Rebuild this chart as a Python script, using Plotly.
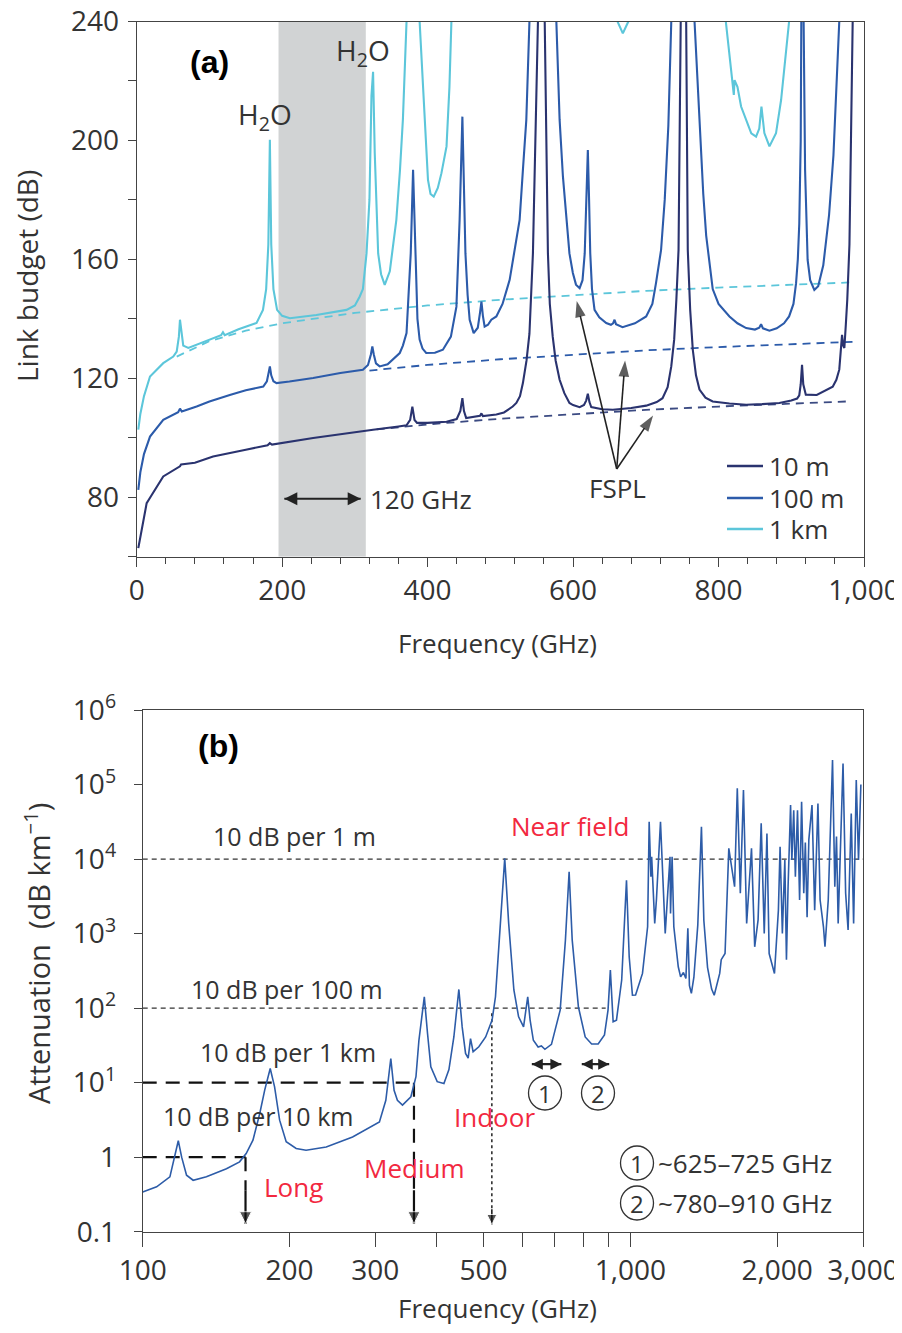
import math
import plotly.graph_objects as go

W, H = 894, 1317   # figure size so that it fits the 902x1333 page with its 8 px body margin
OFF = 8            # page body margin of the browser

# ---------------- panel (a): link budget, (frequency GHz, dB) ----------------
LB_10M = [(2.2, 62.9), (5, 66.5), (10, 72.5), (13.7, 78), (20, 80.5), (36.5, 87), (59.5, 90.4), (61, 91),
          (80, 91.6), (105, 93.7), (150, 96), (180, 97.5), (183, 98.2), (186, 97.7), (242.6, 99.9), (300, 102),
          (325, 102.7), (360, 103.8), (371, 104.2), (376, 106), (379, 110.5), (382, 106), (385.5, 105), (400, 105),
          (426, 105.4), (440, 106.3), (445, 109), (447.8, 113.3), (450, 109), (453, 106.6), (465, 107), (472, 107.4),
          (474, 108.2), (476, 107.3), (494.5, 107.8), (505, 108.5), (517, 110.5), (522, 111.7), (527, 114),
          (531, 118.4), (536, 126), (540, 135), (544.8, 162.1), (549.5, 240), (557, 300), (561, 240), (565.4, 162.1),
          (568, 145), (572, 134), (576, 126), (581.5, 119.5), (588, 115), (595, 111.7), (600, 111), (609, 110.3),
          (615, 111), (618, 112.5), (620.3, 114.8), (622.5, 112), (625, 110.3), (640, 109.6), (654.7, 109.4),
          (680, 110), (700.5, 110.8), (715, 112), (723, 113.3), (730, 117), (735, 124), (739, 133), (742, 146.4),
          (745, 163.2), (748, 240), (752, 300), (755.5, 240), (757.7, 163.2), (761, 143), (764.6, 129.6), (769, 121),
          (773.8, 116.2), (782, 113.5), (792, 112.2), (815, 111.5), (838, 111.1), (860, 111.3), (883.6, 111.7),
          (900, 112.5), (908, 113.2), (911, 114.3), (913, 118), (914.8, 124.5), (916.5, 118), (920, 114.5),
          (935, 114.4), (957, 117.2), (962, 119.5), (966, 122.9), (968, 128), (969.8, 134.6), (971.5, 131),
          (973, 130.2), (975, 138), (977, 146.4), (980, 165), (984, 240), (988, 300), (1000, 280)]

LB_100M = [(2.2, 82.5), (5, 88.4), (10, 94.5), (18.3, 100.4), (36.5, 106), (50, 107.8), (57, 108.6), (59.5, 109.8),
           (62, 108.8), (82.4, 110.5), (100, 112.2), (128, 114.4), (150, 116), (174, 117.2), (179, 119), (181.5, 122),
           (183.1, 124), (185, 121), (188, 119), (192.3, 118.4), (210, 118.9), (242.6, 120.1), (280, 121.8),
           (311, 122.9), (318, 124.5), (322, 128), (324, 130.7), (326, 128), (329, 125), (334, 124), (345, 124.7),
           (361.7, 128.5), (366, 131), (371, 135.2), (373, 144), (376.8, 162.1), (380, 190.1), (383.7, 156.5),
           (386, 140), (389, 133), (393, 130), (398, 128.5), (410, 128.6), (421, 129.6), (432, 134), (439.6, 144.1),
           (444, 173.3), (447.8, 208), (452, 162), (455, 148), (457.8, 139.7), (463.3, 135.2), (469, 137), (472, 142),
           (474, 145.8), (476, 141), (478.4, 137.4), (483, 138), (487.6, 139.7), (494.5, 140.8), (503, 145),
           (512.8, 153.1), (520, 163), (526.5, 173.3), (531, 190), (535.7, 206.9), (540, 240), (557, 400),
           (577, 240), (581.5, 206.9), (586, 188), (590.6, 173.3), (595, 162), (599.7, 155.4), (604, 151.5),
           (609, 150.3), (613, 153), (616, 162), (618.5, 180), (620.3, 196.8), (622, 180), (623.6, 162.1), (626, 150),
           (629.5, 143), (636, 140.5), (645.6, 138.6), (652, 138), (655, 138.5), (657, 139.7), (659, 138.2),
           (668, 137.2), (685, 138.5), (700.5, 140.8), (709, 145), (714, 152), (718, 158), (721, 163.2), (726, 180),
           (731, 205), (735, 240), (752, 400), (767, 240), (771, 220), (775, 200), (779, 182), (783, 168), (788, 157),
           (792, 150), (800, 145), (815, 140.8), (826, 138.5), (838, 136.9), (850, 136.4), (856, 137), (858.5, 138.2),
           (861, 136.8), (870, 136), (880, 136.8), (890, 138.5), (897, 140.8), (903, 145), (906.6, 152), (909, 160),
           (911, 172), (913, 200), (915, 300), (917, 240), (919, 190), (922.5, 159.8), (926, 153), (931.7, 149.7),
           (937, 151), (944, 158), (952, 175), (958, 195), (962, 215), (966, 240), (988, 400), (1000, 300)]

LB_1KM = [(2.2, 102.7), (5, 108), (10, 114), (18.3, 120.6), (36.5, 125.1), (50.3, 127.3), (55, 129), (58, 134),
          (59.5, 139.7), (61, 136), (64, 131), (71, 130.2), (90, 132), (110, 133.8), (116, 134.5), (118.6, 135.5),
          (121, 134.5), (140, 136.5), (164.8, 138.6), (173.6, 143), (178, 150), (181, 165), (183.1, 200.2),
          (185, 165), (188, 150), (193, 143), (200, 141), (210.6, 140.2), (247, 141.3), (288.5, 143), (300, 144.5),
          (306.7, 147.5), (311, 150), (316, 162), (320, 180), (322.8, 215), (325, 223.1), (327.3, 195.7), (332, 162),
          (336, 155), (341, 151.4), (348, 156), (357, 173.3), (362, 190), (366, 207), (371, 240), (380, 400),
          (389, 240), (392, 225), (396, 207), (400.5, 186.7), (404, 182), (408.4, 181.1), (414, 184), (419, 189),
          (426, 198), (430, 218), (432.7, 240), (448, 300), (557, 400), (620, 300), (655, 245), (661, 240),
          (668.4, 236), (676, 240), (690, 250), (752, 400), (800, 250), (810, 240), (815, 228), (818, 223),
          (821, 215.3), (822, 220.3), (826, 218), (831, 211.4), (838, 207), (845, 202.4), (851.6, 201.3),
          (856, 204), (859, 211.4), (863, 202.5), (870, 198), (879, 202.4), (886, 213.6), (893, 230.4), (897, 240),
          (915, 300), (988, 400), (1000, 300)]

# free-space path loss (dashed), read where visible
FSPL_10M = [(330, 102.8), (400, 104.5), (500, 106.4), (600, 108.0), (700, 109.4), (800, 110.5), (900, 111.5),
            (975, 112.2)]
FSPL_100M = [(320, 122.6), (400, 124.5), (500, 126.4), (600, 128.0), (700, 129.4), (800, 130.5), (900, 131.5),
             (987, 132.3)]
FSPL_1KM = [(55, 127.3), (100, 132.5), (150, 136.0), (200, 138.5), (300, 142.0), (400, 144.5), (500, 146.4),
            (600, 148.0), (700, 149.4), (800, 150.5), (900, 151.5), (987, 152.3)]

BAND_GHZ = (195, 315)
LEGEND_NAMES = ["10 m", "100 m", "1 km"]

# annotation arrows of panel (a): (GHz, dB)
SPAN_ARROW = [(203, 79.5), (308, 79.5)]
FSPL_TAIL = (660, 89.5)
FSPL_HEADS = [(605, 146.0), (671.5, 126.0), (710, 107.5)]

# ---------------- panel (b): attenuation, (frequency GHz, dB/km) ----------------
ATTEN = [(100, 0.342), (106.8, 0.40), (113.7, 0.545), (116.4, 1.0), (118.3, 1.66), (120.2, 1.0), (123, 0.573),
         (126.9, 0.49), (135.1, 0.545), (148.5, 0.70), (158, 0.865), (163, 1.12), (168.3, 1.69), (173.8, 3.86),
         (177.9, 7.93), (182.6, 15.5), (186.4, 8.8), (190.9, 3.14), (196.9, 1.61), (206.4, 1.31), (216.3, 1.24),
         (237.9, 1.37), (269.4, 1.87), (305.8, 2.97), (315.2, 5.8), (322.7, 21.1), (327.7, 7.9), (332.9, 5.8),
         (341, 4.99), (354.8, 6.46), (363.4, 12), (368.5, 37), (378, 142), (383.8, 45.7), (389.8, 16.3),
         (401.7, 10.3), (414.7, 9.75), (424.6, 15), (434.6, 41), (445, 178), (452, 56), (459.3, 24.7), (465, 21.3),
         (470.2, 39), (476, 26), (489, 30.3), (505, 41), (520.6, 69), (529, 142), (541.4, 1371), (552.6, 10200),
         (563, 1371), (577, 175), (590, 76.5), (604, 56), (616, 142), (623, 69), (632.6, 37), (647, 30), (657, 31),
         (668, 28), (689, 32.6), (718, 94), (736, 818), (749, 6760), (760, 818), (782.5, 104), (808, 41), (833, 33),
         (859, 33), (885, 43.6), (900, 94), (910, 323), (922, 65.5), (936.6, 69), (960, 238), (982, 5200),
         (994.6, 488), (1010, 149), (1025, 150), (1040, 200), (1059, 292), (1085, 1233), (1093, 31700),
         (1102, 5800), (1106, 10740), (1122, 1370), (1131, 2818), (1153, 31700), (1179, 1007), (1206, 10740),
         (1209, 1866), (1218, 10740), (1228, 1233), (1254, 359), (1268, 263), (1285, 300), (1300, 250),
         (1312, 1175), (1322, 200), (1334, 158), (1350, 260), (1375, 1300), (1399, 27100), (1415, 1500),
         (1440, 350), (1468, 180), (1486, 149), (1525, 292), (1536, 447), (1564, 540), (1592, 13900), (1636, 4250),
         (1657, 88900), (1681, 3470), (1706, 84300), (1732, 1370), (1745, 3000), (1772, 13900), (1799, 665),
         (1828, 1530), (1855, 30100), (1882, 1000), (1906, 22000), (1926, 540), (1975, 292), (2012, 2065),
         (2028, 14600), (2050, 1000), (2074, 9700), (2090, 447), (2106, 4250), (2131, 53000), (2144, 9700),
         (2163, 45300), (2180, 5800), (2202, 45300), (2224, 2820), (2245, 58500), (2268, 3470), (2285, 16700),
         (2304, 1660), (2323, 18200), (2358, 53000), (2388, 2065), (2425, 55700), (2450, 2820), (2489, 1233),
         (2507, 665), (2546, 2820), (2598, 213000), (2626, 4250), (2647, 20000), (2668, 1370), (2730, 192000),
         (2764, 3470), (2796, 1120), (2838, 40800), (2870, 1370), (2906, 115000), (2937, 9700), (2970, 100000)]

# reference levels (dB/km) and their extent in GHz
LEVEL_1M = (1e4, 100, 3000)
LEVEL_100M = (100, 100, 890)
LEVEL_1KM = (10, 100, 360)
LEVEL_10KM = (1, 100, 162.5)
# vertical cut-offs: (GHz, top of dashed part, start of solid arrow, arrow tip)
CUT_LONG = (162.5, 1, 0.36, 0.128)
CUT_MEDIUM = (360, 10, 0.36, 0.128)
CUT_INDOOR = (520, 85, 0.2, 0.125)
WINDOW_1 = (628, 722)
WINDOW_2 = (795, 905)
WINDOW_LEVEL = 17.7

X_TICKS_B = [100, 200, 300, 500, 1000, 2000, 3000]
X_TEXT_B = ["100", "200", "300", "500", "1,000", "2,000", "3,000"]
X_MINOR_B = [400, 600, 700, 800, 900]
Y_TICKS_B = [0.1, 1, 10, 100, 1e3, 1e4, 1e5, 1e6]
Y_TEXT_B = ["0.1", "1", "10<sup>1</sup>", "10<sup>2</sup>", "10<sup>3</sup>", "10<sup>4</sup>", "10<sup>5</sup>",
            "10<sup>6</sup>"]

C10 = "#2a336f"
C100 = "#2c5baa"
C1K = "#5cc6da"
CATT = "#2d5ca8"
RED = "#f2283f"
TXT = "#333333"
FONT = "Open Sans"


def unzip(pairs):
    return [p[0] for p in pairs], [p[1] for p in pairs]


def px(x, y):
    return (x - OFF) / W, 1 - (y - OFF) / H


def dom_x(a, b):
    return [(a - OFF) / W, (b - OFF) / W]


def dom_y(top, bottom):
    return [1 - (bottom - OFF) / H, 1 - (top - OFF) / H]


fig = go.Figure()

# ----- panel (a) traces -----
for data, col in [(FSPL_1KM, C1K), (FSPL_100M, C100), (FSPL_10M, "#3b4a82")]:
    fx, fy = unzip(data)
    fig.add_trace(go.Scatter(x=fx, y=fy, mode="lines", line=dict(color=col, width=1.8, dash="8px,6px"),
                             showlegend=False, hoverinfo="skip", xaxis="x", yaxis="y"))
for data, col, name in [(LB_10M, C10, LEGEND_NAMES[0]), (LB_100M, C100, LEGEND_NAMES[1]),
                        (LB_1KM, C1K, LEGEND_NAMES[2])]:
    fx, fy = unzip(data)
    fig.add_trace(go.Scatter(x=fx, y=fy, mode="lines", name=name, line=dict(color=col, width=2.1),
                             showlegend=False, xaxis="x", yaxis="y"))

# arrows panel (a)
sx, sy = unzip(SPAN_ARROW)
fig.add_trace(go.Scatter(x=sx, y=sy, mode="lines+markers", line=dict(color="#222", width=2),
                         marker=dict(symbol=["arrow-left", "arrow-right"], size=13, color="#222"),
                         showlegend=False, hoverinfo="skip", cliponaxis=False, xaxis="x", yaxis="y"))
for hx_, hy_ in FSPL_HEADS:
    fig.add_trace(go.Scatter(x=[FSPL_TAIL[0], hx_], y=[FSPL_TAIL[1], hy_], mode="lines+markers",
                             line=dict(color="#222", width=1.6),
                             marker=dict(symbol="arrow", size=[0, 17], angleref="previous", color="#1a1a1a",
                                         line=dict(width=0)),
                             showlegend=False, hoverinfo="skip", xaxis="x", yaxis="y"))

# ----- panel (b) traces -----
ref_dash = dict(color="#333333", width=1.3, dash="5px,4px")
long_dash = dict(color="#111111", width=2.2, dash="14px,9px")
for lev, st in [(LEVEL_1M, ref_dash), (LEVEL_100M, ref_dash), (LEVEL_1KM, long_dash), (LEVEL_10KM, long_dash)]:
    fig.add_trace(go.Scatter(x=[lev[1], lev[2]], y=[lev[0], lev[0]], mode="lines", line=st, showlegend=False,
                             hoverinfo="skip", xaxis="x2", yaxis="y2"))
for cut, st, w in [(CUT_LONG, long_dash, 2.2), (CUT_MEDIUM, long_dash, 2.2),
                   (CUT_INDOOR, dict(color="#222222", width=1.5, dash="3px,3px"), 1.5)]:
    fig.add_trace(go.Scatter(x=[cut[0], cut[0]], y=[cut[1], cut[2]], mode="lines", line=st, showlegend=False,
                             hoverinfo="skip", xaxis="x2", yaxis="y2"))
    fig.add_trace(go.Scatter(x=[cut[0], cut[0]], y=[cut[2], cut[3]], mode="lines+markers",
                             line=dict(color="#111", width=w),
                             marker=dict(symbol=["circle", "arrow-down"], size=[0, 12 if w > 2 else 10],
                                         color="#111"),
                             showlegend=False, hoverinfo="skip", cliponaxis=False, xaxis="x2", yaxis="y2"))
for win in (WINDOW_1, WINDOW_2):
    fig.add_trace(go.Scatter(x=list(win), y=[WINDOW_LEVEL, WINDOW_LEVEL], mode="lines+markers",
                             line=dict(color="#222", width=2.2),
                             marker=dict(symbol=["arrow-left", "arrow-right"], size=11, color="#222"),
                             showlegend=False, hoverinfo="skip", xaxis="x2", yaxis="y2"))

ax_, ay_ = unzip(ATTEN)
fig.add_trace(go.Scatter(x=ax_, y=ay_, mode="lines", line=dict(color=CATT, width=1.6), showlegend=False,
                         xaxis="x2", yaxis="y2"))

# ----- shapes -----
shapes = [dict(type="rect", xref="x", yref="y", x0=BAND_GHZ[0], x1=BAND_GHZ[1], y0=60, y1=240,
               fillcolor="#d1d3d4", line=dict(width=0), layer="below")]
for cx, cy in [(545, 1093), (598, 1093), (637, 1163), (637, 1203)]:
    x0, y0 = px(cx - 16.5, cy + 17)
    x1, y1 = px(cx + 16.5, cy - 17)
    shapes.append(dict(type="circle", xref="paper", yref="paper", x0=x0, x1=x1, y0=y0, y1=y1,
                       line=dict(color="#333333", width=1.3)))
# hand-made legend for panel (a)
for (ly, col) in [(466, C10), (498, C100), (529, C1K)]:
    x0, y0 = px(727, ly)
    x1, _ = px(763, ly)
    shapes.append(dict(type="line", xref="paper", yref="paper", x0=x0, x1=x1, y0=y0, y1=y0,
                       line=dict(color=col, width=2.5)))

# ----- annotations -----
ann = []


def text(t, x, y, size=26, color=TXT, xanchor="center", family=FONT, bold=False, angle=0):
    X, Y = px(x, y)
    if bold:
        t = "<b>" + t + "</b>"
    ann.append(dict(text=t, x=X, y=Y, xref="paper", yref="paper", showarrow=False, xanchor=xanchor,
                    yanchor="middle", textangle=angle, font=dict(size=size, color=color, family=family)))


text("(a)", 209, 62, size=32, color="#000", family="Liberation Sans", bold=True)
text("H<sub>2</sub>O", 265, 116, size=28)
text("H<sub>2</sub>O", 363, 52, size=28)
text("120 GHz", 368, 499, xanchor="left")
text("FSPL", 617, 488)
text("Link budget (dB)", 27, 276, size=28, angle=-90)
text("Frequency (GHz)", 497, 643, size=26)
for name, ly in zip(LEGEND_NAMES, [466, 498, 529]):
    text(name, 767, ly, size=26, xanchor="left")

text("(b)", 218, 746, size=32, color="#000", family="Liberation Sans", bold=True)
text("10 dB per 1 m", 294, 836, size=25)
text("Near field", 570, 826, color=RED)
text("10 dB per 100 m", 287, 989, size=25)
text("10 dB per 1 km", 288, 1052, size=25)
text("10 dB per 10 km", 258, 1116, size=25)
text("Long", 293, 1187, color=RED)
text("Medium", 414, 1168, color=RED)
text("Indoor", 494, 1117, color=RED)
text("1", 545, 1093, size=24)
text("2", 598, 1093, size=24)
text("1", 637, 1163, size=24)
text("2", 637, 1203, size=24)
text("~625–725 GHz", 656, 1163, size=26, xanchor="left")
text("~780–910 GHz", 656, 1203, size=26, xanchor="left")
text("Attenuation  (dB km<sup>−1</sup>)", 37, 954, size=29, angle=-90)
text("Frequency (GHz)", 497, 1308, size=26)

axis_common = dict(showline=True, linecolor="#444", linewidth=1, mirror=True, showgrid=False, zeroline=False,
                   ticks="outside", tickcolor="#444", automargin=False, ticklabeloverflow="allow",
                   tickfont=dict(family=FONT, size=28, color=TXT))

fig.update_layout(
    width=W, height=H, margin=dict(l=0, r=0, t=0, b=0, autoexpand=False), paper_bgcolor="white",
    plot_bgcolor="white", font=dict(family=FONT, color=TXT), showlegend=False,
    xaxis=dict(domain=dom_x(136.7, 864), anchor="y", range=[0, 1000], dtick=200, tick0=0, tickformat=",",
               ticklen=9, minor=dict(dtick=40, ticklen=6, ticks="outside", tickcolor="#444"), **axis_common),
    yaxis=dict(domain=dom_y(21.5, 556.7), anchor="x", range=[60, 240], dtick=40, tick0=0,
               ticklen=8, ticklabelstandoff=3, minor=dict(dtick=20, ticklen=8, ticks="outside", tickcolor="#444"),
               **axis_common),
    xaxis2=dict(domain=dom_x(142.7, 863), anchor="y2", type="log", range=[2, math.log10(3000)],
                tickmode="array", tickvals=X_TICKS_B, ticktext=X_TEXT_B, ticklen=14,
                minor=dict(tickmode="array", tickvals=X_MINOR_B, ticklen=14, ticks="outside", tickcolor="#444"),
                **axis_common),
    yaxis2=dict(domain=dom_y(710, 1231.7), anchor="x2", type="log", range=[-1, 6],
                tickmode="array", tickvals=Y_TICKS_B, ticktext=Y_TEXT_B, ticklen=8, ticklabelstandoff=12,
                **axis_common),
    shapes=shapes, annotations=ann,
)

fig.write_html("out.html")
